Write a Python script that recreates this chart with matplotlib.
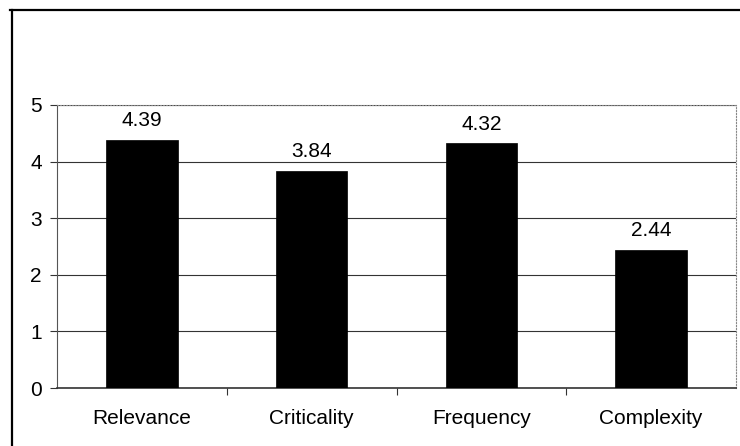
import matplotlib.pyplot as plt
from matplotlib.lines import Line2D

plt.rcParams['font.family'] = ['Liberation Sans', 'DejaVu Sans']

categories = ['Relevance', 'Criticality', 'Frequency', 'Complexity']
scores = [4.39, 3.84, 4.32, 2.44]
yticks = [0, 1, 2, 3, 4, 5]

fig = plt.figure(figsize=(7.4, 4.46), dpi=100)
ax = fig.add_axes([57 / 740, 1 - 388 / 446, 679 / 740, 283 / 446])

x = range(len(categories))
bars = ax.bar(x, scores, width=0.42, color='black', edgecolor='black', linewidth=0.5, zorder=3)
for b, v in zip(bars, scores):
    ax.annotate(f'{v:.2f}', (b.get_x() + b.get_width() / 2, v),
                xytext=(0, 10), textcoords='offset points',
                ha='center', va='baseline', fontsize=15)

ax.set_xlim(-0.5, len(categories) - 0.5)
ax.set_ylim(0, 5)
ax.set_yticks(yticks)
ax.set_yticklabels([str(t) for t in yticks], fontsize=15)
ax.yaxis.grid(True, color='#333333', linewidth=0.8, zorder=0)

# category labels sit between the boundary ticks
ax.set_xticks([i + 0.5 for i in range(len(categories) - 1)])
ax.set_xticklabels([])
ax.set_xticks(list(x), minor=True)
ax.set_xticklabels(categories, minor=True, fontsize=15)
ax.tick_params(axis='x', which='minor', length=0, pad=15)
ax.tick_params(axis='x', which='major', length=5, direction='out', color='#333333')
ax.tick_params(axis='y', length=5, color='#333333', pad=6)

for side in ['top', 'right']:
    ax.spines[side].set_color('#888888')
    ax.spines[side].set_linestyle(':')
ax.spines['left'].set_color('#555555')
ax.spines['bottom'].set_color('#333333')
ax.spines['bottom'].set_linewidth(1.2)

# outer chart frame
fig.add_artist(Line2D([12 / 740, 12 / 740], [0, 1 - 10 / 446], color='black', linewidth=1.6))
fig.add_artist(Line2D([10 / 740, 1], [1 - 10 / 446, 1 - 10 / 446], color='black', linewidth=1.6))

fig.savefig('out.png', dpi=100)
